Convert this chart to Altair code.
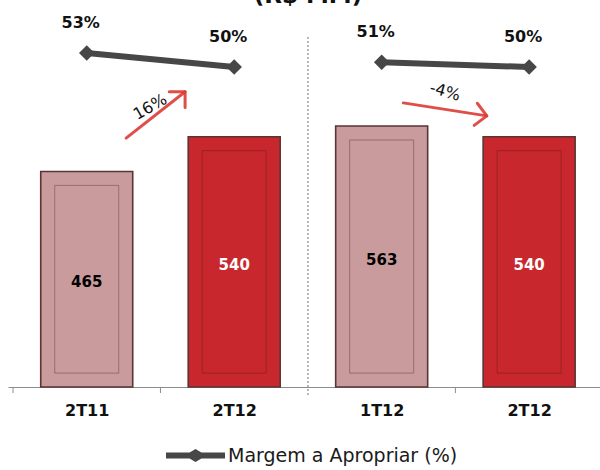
import altair as alt
import pandas as pd

# ---- data ----
categorias = ["2T11", "2T12", "1T12", "2T12"]
indice = [0, 1, 2, 3]
receita = [465, 540, 563, 540]
tipo = ["anterior", "atual", "anterior", "atual"]
painel = ["anual", "anual", "trimestral", "trimestral"]
margem = [53, 50, 51, 50]
serie = "Margem a Apropriar (%)"

# variation arrows (in data units: x = category slot, y = R$ MM)
seta_x0 = [0.767, 2.647]
seta_y0 = [537, 613]
seta_x1 = [1.167, 3.213]
seta_y1 = [637, 585]
seta_ang = [315, 8]
var_txt = ["16%", "-4%"]
var_x = [0.93, 2.93]
var_y = [604, 637]
var_ang = [330, 16]

limites = [0, 1, 3]
separador = [2]

df = pd.DataFrame({
    "cat": categorias, "i": indice, "receita": receita, "tipo": tipo,
    "painel": painel, "margem": margem, "serie": serie,
})
df_seta = pd.DataFrame({"x0": seta_x0, "y0": seta_y0, "x1": seta_x1, "y1": seta_y1,
                        "ang": seta_ang, "txt": var_txt, "tx": var_x, "ty": var_y,
                        "tang": var_ang})
df_lim = pd.DataFrame({"b": limites})
df_sep = pd.DataFrame({"b": separador, "titulo": ["(R$ MM)"]})

# ---- scales / axis ----
xs = alt.Scale(domain=[0, 592 / 150], nice=False, zero=False)
yb = alt.Scale(domain=[0, 835], nice=False, zero=True)
yp = alt.Scale(domain=[-18.57, 64.36], nice=False, zero=False)

eixo_x = alt.Axis(
    values=[0.5, 1.5, 2.5, 3.5],
    labelExpr="['2T11','2T12','1T12','2T12'][floor(datum.value)]",
    ticks=False, grid=False, title=None,
    domainColor="#8c8c8c", domainWidth=1,
    labelFont="DejaVu Sans", labelFontWeight="bold", labelFontSize=16,
    labelColor="#111111", labelPadding=15,
)

base = alt.Chart(df).transform_calculate(centro="datum.i + 0.5")
X = alt.X("centro:Q", scale=xs, axis=eixo_x)

barras = base.mark_bar(size=92, stroke="#5a3536", strokeWidth=1.6).encode(
    x=X,
    y=alt.Y("receita:Q", scale=yb, axis=None),
    color=alt.Color("tipo:N", scale=alt.Scale(domain=["anterior", "atual"],
                                               range=["#c99b9c", "#c8272d"]),
                    legend=None),
)

moldura = base.transform_calculate(topo="datum.receita - 30").mark_bar(
    size=64, fillOpacity=0, stroke="#4a1818", strokeOpacity=0.35, strokeWidth=1
).encode(
    x=X,
    y=alt.Y("topo:Q", scale=yb, axis=None),
    y2=alt.Y2Datum(30),
)

def rotulo_barra(t, cor):
    return base.transform_filter(alt.datum.tipo == t).transform_calculate(
        meio="datum.receita / 2").mark_text(
        font="DejaVu Sans", fontWeight="bold", fontSize=15, color=cor, dy=3
    ).encode(
        x=X,
        y=alt.Y("meio:Q", scale=yb, axis=None),
        text=alt.Text("receita:Q"),
    )

txt_ant = rotulo_barra("anterior", "#000000")
txt_atu = rotulo_barra("atual", "#ffffff")

ticks = alt.Chart(df_lim).mark_rule(color="#8c8c8c", strokeWidth=1).encode(
    x=alt.X("b:Q", scale=xs, axis=eixo_x),
    y=alt.Y(datum=0, scale=yb, axis=None),
    y2=alt.Y2Datum(-13),
)

sep = alt.Chart(df_sep).mark_rule(color="#8a8a8a", strokeWidth=1.2, strokeDash=[2, 2]).encode(
    x=alt.X("b:Q", scale=xs, axis=eixo_x),
    y=alt.Y(datum=-17, scale=yb, axis=None),
    y2=alt.Y2Datum(755),
)

titulo = alt.Chart(df_sep).mark_text(
    font="DejaVu Sans", fontWeight="bold", fontSize=23, baseline="alphabetic", color="#111111"
).encode(
    x=alt.X("b:Q", scale=xs, axis=eixo_x),
    y=alt.value(3),
    text="titulo:N",
)

linha = base.mark_line(strokeWidth=6, color="#474747").encode(
    x=X,
    y=alt.Y("margem:Q", scale=yp, axis=None),
    detail="painel:N",
)

simbolo = ("M-1,-0.1L-0.2,-0.1L0,-0.22L0.2,-0.1L1,-0.1L1,0.1L0.2,0.1L0,0.22"
           "L-0.2,0.1L-1,0.1Z")

pontos = base.mark_point(filled=True, shape="diamond", size=240, opacity=1).encode(
    x=X,
    y=alt.Y("margem:Q", scale=yp, axis=None),
    color=alt.Color("serie:N", scale=alt.Scale(range=["#474747"]),
                    legend=alt.Legend(
                        title=None, orient="none", legendX=158, legendY=426,
                        symbolType=simbolo, symbolSize=3481, symbolStrokeWidth=0,
                        labelFont="DejaVu Sans", labelFontSize=19, labelColor="#1a1a1a",
                        labelOffset=3, padding=0, labelLimit=400,
                    )),
)

rot_pct = base.transform_calculate(lbl="datum.margem + '%'").mark_text(
    font="DejaVu Sans", fontWeight="bold", fontSize=16, color="#111111", dy=-30, dx=-6
).encode(
    x=X,
    y=alt.Y("margem:Q", scale=yp, axis=None),
    text="lbl:N",
)

setas = alt.Chart(df_seta).mark_rule(color="#dd3b35", strokeWidth=3, strokeCap="round",
                                     opacity=0.9).encode(
    x=alt.X("x0:Q", scale=xs, axis=eixo_x),
    x2="x1:Q",
    y=alt.Y("y0:Q", scale=yb, axis=None),
    y2="y1:Q",
)

pontas = alt.Chart(df_seta).mark_point(
    shape="M-1,-1L0,0L-1,1", filled=False, size=500, color="#dd3b35",
    strokeWidth=3, strokeCap="round", strokeJoin="round", opacity=0.9
).encode(
    x=alt.X("x1:Q", scale=xs, axis=eixo_x),
    y=alt.Y("y1:Q", scale=yb, axis=None),
    angle=alt.Angle("ang:Q", scale=None),
)

rot_var = alt.Chart(df_seta).mark_text(
    font="DejaVu Sans", fontSize=16, color="#111111"
).encode(
    x=alt.X("tx:Q", scale=xs, axis=eixo_x),
    y=alt.Y("ty:Q", scale=yb, axis=None),
    angle=alt.Angle("tang:Q", scale=None),
    text="txt:N",
)

chart = alt.layer(
    barras, moldura, txt_ant, txt_atu, ticks, sep, titulo,
    setas, pontas, rot_var, linha, pontos, rot_pct,
).resolve_scale(
    y="independent", color="independent"
).properties(
    width=592, height=387,
    autosize=alt.AutoSizeParams(type="none"),
    padding={"left": 8, "top": 0, "right": 0, "bottom": 83},
).configure_view(stroke=None)

chart.save("out.html", embed_options={"renderer": "svg", "actions": False})
